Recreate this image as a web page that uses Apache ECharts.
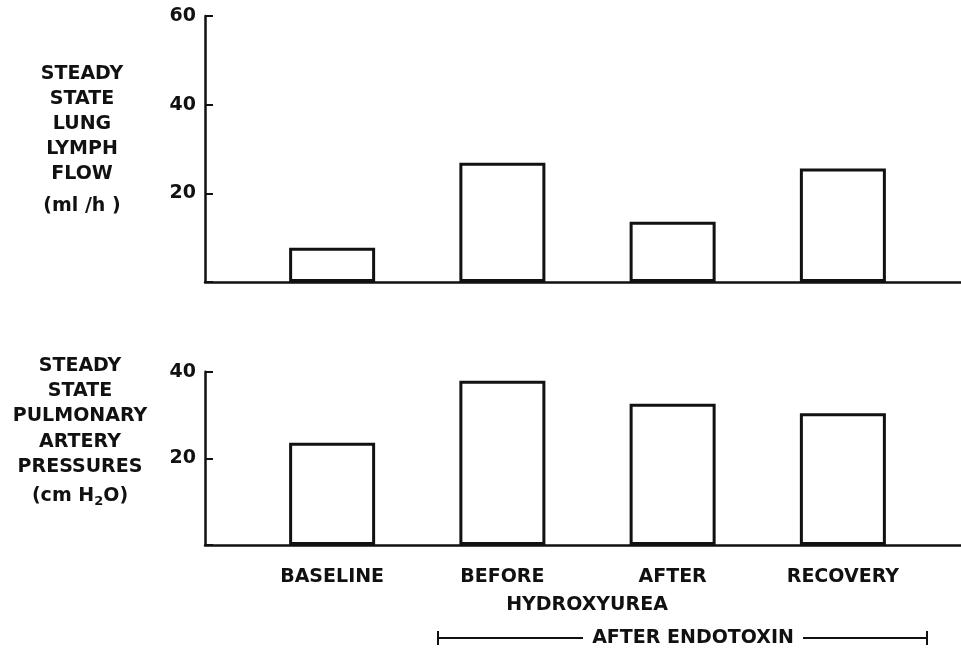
<!DOCTYPE html>
<html>
<head>
<meta charset="utf-8">
<script src="https://cdn.jsdelivr.net/npm/echarts@6/dist/echarts.min.js"></script>
<style>
html,body{margin:0;padding:0;background:#fff;}
#chart{width:961px;height:649px;}
</style>
</head>
<body>
<div id="chart"></div>
<script>
var categories = ['BASELINE', 'BEFORE', 'AFTER', 'RECOVERY'];
var lymphFlow = [7.7, 26.9, 13.6, 25.6];
var arteryPressure = [23.6, 37.9, 32.6, 30.4];
var lymphTicks = [0, 60, 20];     // min, max, interval
var pressureTicks = [0, 40, 20];  // min, max, interval

var FONT = 'DejaVu Sans';
var INK = '#111';

var chart = echarts.init(document.getElementById('chart'), null, {renderer: 'canvas'});

function frameY(idx, ticks) {
  return {
    gridIndex: idx, type: 'value', min: ticks[0], max: ticks[1], interval: ticks[2],
    axisLine: {show: true, lineStyle: {color: INK, width: 2.5}},
    axisTick: {show: true, inside: true, length: 8, lineStyle: {color: INK, width: 2}},
    axisLabel: {show: true, margin: 9, color: INK, fontFamily: FONT, fontWeight: 'bold', fontSize: 19,
      formatter: function (v) { return v === 0 ? '' : String(v); }},
    splitLine: {show: false}
  };
}
function hiddenY(idx, ticks) {
  return {gridIndex: idx, type: 'value', min: ticks[0], max: ticks[1], interval: ticks[2], show: false, splitLine: {show: false}};
}
function frameX(idx) {
  return {
    gridIndex: idx, type: 'value', min: 0, max: 1,
    axisLine: {show: true, lineStyle: {color: INK, width: 2.5}},
    axisTick: {show: false}, axisLabel: {show: false}, splitLine: {show: false}
  };
}
function catX(idx, showLabels) {
  return {
    gridIndex: idx, type: 'category', data: categories,
    axisLine: {show: false}, axisTick: {show: false},
    axisLabel: {show: showLabels, margin: 23, color: INK, fontFamily: FONT, fontWeight: 'bold', fontSize: 19, lineHeight: 19, interval: 0},
    splitLine: {show: false}
  };
}
var barStyle = {color: '#fff', borderColor: INK, borderWidth: 3};

var titleText = {color: INK, fontFamily: FONT, fontWeight: 'bold', fontSize: 19};

chart.setOption({
  animation: false,
  backgroundColor: '#fff',
  title: [
    {text: 'STEADY\nSTATE\nLUNG\nLYMPH\nFLOW', left: 82, top: 61.5, textAlign: 'center', padding: 0,
      textStyle: Object.assign({lineHeight: 25}, titleText)},
    {text: '(ml /h )', left: 82, top: 193.5, textAlign: 'center', padding: 0,
      textStyle: Object.assign({lineHeight: 25}, titleText)},
    {text: 'STEADY\nSTATE\nPULMONARY\nARTERY\nPRESSURES', left: 80, top: 353, textAlign: 'center', padding: 0,
      textStyle: Object.assign({lineHeight: 25.4}, titleText)},
    {text: '(cm H{sub|2}O)', left: 80, top: 483.5, textAlign: 'center', padding: 0,
      textStyle: Object.assign({lineHeight: 25, rich: {sub: {color: INK, fontFamily: FONT, fontWeight: 'bold', fontSize: 13, verticalAlign: 'bottom', padding: [8, 0, 0, 0]}}}, titleText)},
    {text: 'HYDROXYUREA', left: 587, top: 596, textAlign: 'center', padding: 0,
      textStyle: Object.assign({lineHeight: 19}, titleText)}
  ],
  grid: [
    {left: 205, right: 0, top: 16, height: 266},
    {left: 247, width: 681, top: 16, height: 266},
    {left: 205, right: 0, top: 371.7, height: 173.3},
    {left: 247, width: 681, top: 371.7, height: 173.3}
  ],
  xAxis: [frameX(0), catX(1, false), frameX(2), catX(3, true)],
  yAxis: [frameY(0, lymphTicks), hiddenY(1, lymphTicks), frameY(2, pressureTicks), hiddenY(3, pressureTicks)],
  series: [
    {type: 'bar', name: 'Lymph flow', xAxisIndex: 1, yAxisIndex: 1, data: lymphFlow, barWidth: 86, itemStyle: barStyle, silent: true},
    {type: 'bar', name: 'Artery pressure', xAxisIndex: 3, yAxisIndex: 3, data: arteryPressure, barWidth: 86, itemStyle: barStyle, silent: true}
  ],
  graphic: [
    {type: 'line', shape: {x1: 438, y1: 638, x2: 583, y2: 638}, style: {stroke: INK, lineWidth: 2}},
    {type: 'line', shape: {x1: 438, y1: 631, x2: 438, y2: 645}, style: {stroke: INK, lineWidth: 2}},
    {type: 'text', x: 693, y: 638, style: {text: 'AFTER ENDOTOXIN', fill: INK, font: 'bold 19px "DejaVu Sans"', textAlign: 'center', textVerticalAlign: 'middle'}},
    {type: 'line', shape: {x1: 803, y1: 638, x2: 927, y2: 638}, style: {stroke: INK, lineWidth: 2}},
    {type: 'line', shape: {x1: 927, y1: 631, x2: 927, y2: 645}, style: {stroke: INK, lineWidth: 2}}
  ]
});
</script>
</body>
</html>
